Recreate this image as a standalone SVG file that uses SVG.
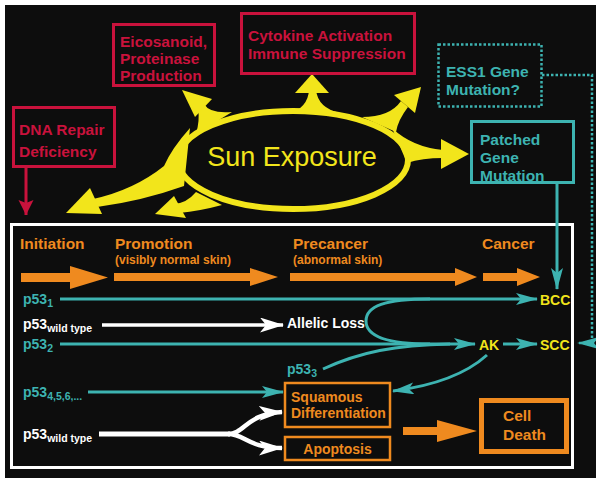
<svg xmlns="http://www.w3.org/2000/svg" width="596" height="478" viewBox="0 0 596 478">
<style>
.red{fill:none;stroke:#c9123c;stroke-width:3}
.rt{fill:#c9123c;font-family:"Liberation Sans",Arial,sans-serif;font-weight:bold;font-size:15.5px}
.tealbox{fill:none;stroke:#3db3b1;stroke-width:3}
.tt{fill:#3db3b1;font-family:"Liberation Sans",Arial,sans-serif;font-weight:bold;font-size:15.5px}
.ot{fill:#ef8a1f;font-family:"Liberation Sans",Arial,sans-serif;font-weight:bold;font-size:15.5px}
.os{fill:#ef8a1f;font-family:"Liberation Sans",Arial,sans-serif;font-weight:bold;font-size:12px}
.obox{fill:none;stroke:#ef8a1f;stroke-width:2.5}
.p{font-family:"Liberation Sans",Arial,sans-serif;font-weight:bold;font-size:14px}
.sub{font-size:10.5px}
.yt{fill:#f2e51b;font-family:"Liberation Sans",Arial,sans-serif;font-weight:bold;font-size:14px}
.tl{fill:none;stroke:#3db3b1;stroke-width:3}
.wl{fill:none;stroke:#ffffff;stroke-width:3.5}
.y{fill:#f2e51b}
.o{fill:#ef8a1f}
</style>
<defs>
<marker id="ta" markerUnits="userSpaceOnUse" markerWidth="22" markerHeight="12" refX="21" refY="6" orient="auto"><path d="M0,0 L22,6 L0,12 L5,6 Z" fill="#3db3b1"/></marker>
<marker id="wa" markerUnits="userSpaceOnUse" markerWidth="24" markerHeight="15" refX="23" refY="7.5" orient="auto"><path d="M0,0 L24,7.5 L0,15 L6,7.5 Z" fill="#ffffff"/></marker>
<marker id="ra" markerUnits="userSpaceOnUse" markerWidth="15" markerHeight="16" refX="15" refY="7.5" orient="auto"><path d="M0,0 L15,7.5 L0,15 L3,7.5 Z" fill="#c9123c"/></marker>
</defs>
<rect x="0" y="0" width="596" height="478" fill="#ffffff"/>
<rect x="5" y="5" width="591" height="473" fill="#0d0d0d"/>

<g id="frame"><rect x="11.5" y="224.5" width="561" height="243" fill="none" stroke="#ffffff" stroke-width="3"/></g>

<g id="sun">
<ellipse cx="293" cy="160" rx="115" ry="49" fill="none" stroke="#f2e51b" stroke-width="6"/>
<path class="y" d="M232 112 Q210 114 204 104 L198 109 Q200 120 196 134 Z"/>
<polygon class="y" points="182,90 212,99 195,117"/>
<path class="y" d="M288 114 Q308 108 309 90 L316 90 Q318 108 340 113 Z"/>
<polygon class="y" points="312,74 295,93 329,93"/>
<path class="y" d="M362 117 Q390 117 401 101 L408 107 Q398 120 396 132 Z"/>
<polygon class="y" points="421,87 394,95 415,113"/>
<path class="y" d="M392 128 Q412 147 443 150 L443 158 Q422 158 407 163 Z"/>
<polygon class="y" points="469,154 441,139 441,169"/>
<path class="y" d="M190 128 Q172 148 164 166 Q134 190 93 199 L97 207 Q142 201 184 186 Z"/>
<polygon class="y" points="66,213 90,188 102,214"/>
<path class="y" d="M196 192 Q186 204 173 204 L179 213 Q200 211 222 205 Z"/>
<polygon class="y" points="155,214 174,196 186,218"/>
<text x="292" y="166" text-anchor="middle" fill="#f2e51b" font-family="Liberation Sans, Arial, sans-serif" font-size="27">Sun Exposure</text>
</g>

<g id="dna">
<rect class="red" x="13.5" y="107.5" width="101" height="59"/>
<text class="rt" x="19" y="135">DNA Repair</text>
<text class="rt" x="19" y="157">Deficiency</text>
</g>
<g id="eicosanoid">
<rect class="red" x="113.5" y="24.5" width="101" height="61"/>
<text class="rt" x="120" y="47">Eicosanoid,</text>
<text class="rt" x="120" y="64">Proteinase</text>
<text class="rt" x="120" y="81">Production</text>
</g>
<g id="cytokine">
<rect class="red" x="241.5" y="13.5" width="173" height="60"/>
<text class="rt" x="248" y="41">Cytokine Activation</text>
<text class="rt" x="248" y="59">Immune Suppression</text>
</g>
<g id="ess1">
<rect x="438.5" y="44.5" width="103" height="62" fill="none" stroke="#3db3b1" stroke-width="2.5" stroke-dasharray="2.5 2"/>
<text class="tt" x="446" y="77">ESS1 Gene</text>
<text class="tt" x="446" y="95">Mutation?</text>
</g>
<g id="patched">
<rect class="tealbox" x="471.5" y="121.5" width="102" height="61"/>
<text class="tt" x="480" y="145">Patched</text>
<text class="tt" x="480" y="163">Gene</text>
<text class="tt" x="480" y="181">Mutation</text>
</g>

<g id="stages">
<text class="ot" x="20" y="249">Initiation</text>
<text class="ot" x="115" y="249">Promotion</text>
<text class="os" x="115" y="264">(visibly normal skin)</text>
<text class="ot" x="293" y="249">Precancer</text>
<text class="os" x="293" y="264">(abnormal skin)</text>
<text class="ot" x="482" y="249">Cancer</text>
</g>

<g id="labels">
<text class="p" x="23" y="304" fill="#3db3b1">p53<tspan class="sub" dy="3">1</tspan></text>
<text class="p" x="23" y="329" fill="#ffffff">p53<tspan class="sub" dy="3">wild type</tspan></text>
<text class="p" x="23" y="349" fill="#3db3b1">p53<tspan class="sub" dy="3">2</tspan></text>
<text class="p" x="287" y="374" fill="#3db3b1">p53<tspan class="sub" dy="3">3</tspan></text>
<text class="p" x="23" y="397" fill="#3db3b1">p53<tspan class="sub" dy="3">4,5,6,...</tspan></text>
<text class="p" x="23" y="439" fill="#ffffff">p53<tspan class="sub" dy="3">wild type</tspan></text>
</g>
<g id="allelic"><text class="p" x="287" y="328" fill="#ffffff">Allelic Loss</text></g>
<g id="bcc"><text class="yt" x="540" y="305">BCC</text></g>
<g id="ak"><text class="yt" x="479" y="350">AK</text></g>
<g id="scc"><text class="yt" x="540" y="350">SCC</text></g>

<g id="squamous">
<rect class="obox" x="285" y="383" width="105" height="44"/>
<text class="p" x="291" y="402" fill="#ef8a1f">Squamous</text>
<text class="p" x="291" y="418" fill="#ef8a1f">Differentiation</text>
</g>
<g id="apoptosis">
<rect class="obox" x="285" y="437" width="105" height="23"/>
<text class="p" x="337.5" y="454" text-anchor="middle" fill="#ef8a1f">Apoptosis</text>
</g>
<g id="celldeath">
<rect x="481.5" y="400.5" width="85" height="51" fill="none" stroke="#ef8a1f" stroke-width="5"/>
<text class="ot" x="503" y="421" font-size="16">Cell</text>
<text class="ot" x="503" y="440" font-size="16">Death</text>
</g>

<g id="connectors">
<line x1="26" y1="167" x2="26" y2="215" stroke="#c9123c" stroke-width="3" marker-end="url(#ra)"/>
<polygon class="o" points="21,273 70,273 70,266 108,277.5 70,289 70,282 21,282"/>
<polygon class="o" points="114,273 250,273 250,268 278,277 250,286 250,281 114,281"/>
<polygon class="o" points="290,273 455,273 455,268 477,277 455,286 455,281 290,281"/>
<polygon class="o" points="483,273 517,273 517,268 540,277 517,286 517,281 483,281"/>
<polygon class="o" points="403,427 437,427 437,420 477,431 437,442 437,435 403,435"/>
<line class="tl" x1="557" y1="183" x2="557" y2="289" marker-end="url(#ta)"/>
<polyline points="542,75 592,75 592,343 578,343" fill="none" stroke="#3db3b1" stroke-width="2.5" stroke-dasharray="2.5 2" marker-end="url(#ta)"/>
<line class="tl" x1="60" y1="299" x2="537" y2="299" marker-end="url(#ta)"/>
<line class="tl" x1="60" y1="344" x2="475" y2="344" marker-end="url(#ta)"/>
<path class="tl" d="M430 299 C385 299 366 306 366 321 C366 336 385 344 430 344"/>
<path class="tl" d="M323 369 C360 352 395 345 450 344"/>
<line class="tl" x1="503" y1="344" x2="537" y2="344" marker-end="url(#ta)"/>
<path class="tl" d="M487 355 C466 374 432 386 393 391" marker-end="url(#ta)"/>
<line class="tl" x1="88" y1="392" x2="283" y2="392" marker-end="url(#ta)"/>
<line class="wl" x1="102" y1="325" x2="283" y2="325" marker-end="url(#wa)"/>
<path d="M99 434 L230 434" fill="none" stroke="#ffffff" stroke-width="5"/>
<path d="M228 434 C245 434 246 414 282 412" fill="none" stroke="#ffffff" stroke-width="4.5" marker-end="url(#wa)"/>
<path d="M228 434 C245 434 248 448 282 448" fill="none" stroke="#ffffff" stroke-width="4.5" marker-end="url(#wa)"/>
</g>
</svg>
